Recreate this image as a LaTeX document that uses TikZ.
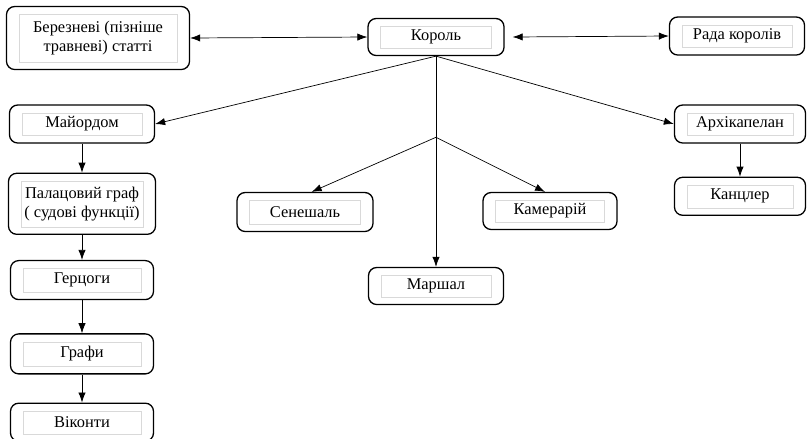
\documentclass[tikz,border=0pt]{standalone}
\usepackage{fontspec}
\setmainfont{Liberation Serif}
\usetikzlibrary{arrows.meta, positioning, calc}

\begin{document}
\begin{tikzpicture}[
    x=0.03cm, y=-0.03cm,
    font=\fontsize{14}{16}\selectfont,
    block/.style={rectangle, draw, line width=1.1pt, rounded corners=7pt, fill=white, align=center, minimum width=4.1cm, minimum height=1.14cm,
        path picture={\draw[black!15, line width=0.4pt, sharp corners] ($(path picture bounding box.south west)+(0.38cm,0.22cm)$) rectangle ($(path picture bounding box.north east)+(-0.38cm,-0.24cm)$);}},
    line/.style={draw, -{Latex[length=0.3cm, width=0.22cm]}, line width=0.6pt},
    both/.style={draw, {Latex[length=0.3cm, width=0.22cm]}-{Latex[length=0.3cm, width=0.22cm]}, line width=0.6pt}
]
    \useasboundingbox (0,0) rectangle (809,438);

    % Top row
    \node [block, minimum width=5.49cm, minimum height=1.89cm] (berez) at (98,38) {Березневі (пізніше\\травневі) статті};
    \node [block, minimum width=4.08cm, minimum height=1.11cm] (korol) at (436,37) {Король};
    \node [block, minimum width=4.05cm] (rada) at (737,36) {Рада королів};

    % Left column
    \node [block, minimum width=4.35cm] (maior) at (82,124) {Майордом};
    \node [block, below=0.87cm of maior, minimum width=4.41cm, minimum height=1.83cm] (palats) {Палацовий граф\\( судові функції)};
    \node [block, below=0.75cm of palats, minimum width=4.29cm, minimum height=1.17cm] (gertsog) {Герцоги};
    \node [block, below=0.99cm of gertsog, minimum width=4.29cm, minimum height=1.2cm] (grafy) {Графи};
    \node [block, below=0.84cm of grafy, minimum width=4.29cm] (vikonty) {Віконти};

    % Middle
    \node [block, minimum width=4.08cm, minimum height=1.17cm] (senesh) at (305,212) {Сенешаль};
    \node [block, minimum width=4.05cm, minimum height=1.11cm] (marshal) at (436,286) {Маршал};
    \node [block, minimum width=4.02cm, minimum height=1.11cm] (kamer) at (550,211) {Камерарій};

    % Right column
    \node [block, minimum width=3.93cm] (arkhi) at (740,124) {Архікапелан};
    \node [block, below=0.99cm of arkhi, minimum width=3.93cm] (kants) {Канцлер};

    % Connections
    \path [both] (berez.east) -- (korol.west);
    \path [both] ([xshift=0.24cm]korol.east) -- (rada.west);
    \path [line] (korol.south) -- (maior.east);
    \path [line] (korol.south) -- (arkhi.west);
    \path [line] (korol.south) -- (marshal.north);

    \coordinate (fork) at ($(korol.south)!0.385!(marshal.north)$);
    \path [line] (fork) -- ([xshift=0.2cm]senesh.north);
    \path [line] (fork) -- ([xshift=-0.15cm]kamer.north);

    \path [line] (maior) -- (palats);
    \path [line] (palats) -- (gertsog);
    \path [line] (gertsog) -- (grafy);
    \path [line] (grafy) -- (vikonty);
    \path [line] (arkhi) -- (kants);

\end{tikzpicture}
\end{document}
